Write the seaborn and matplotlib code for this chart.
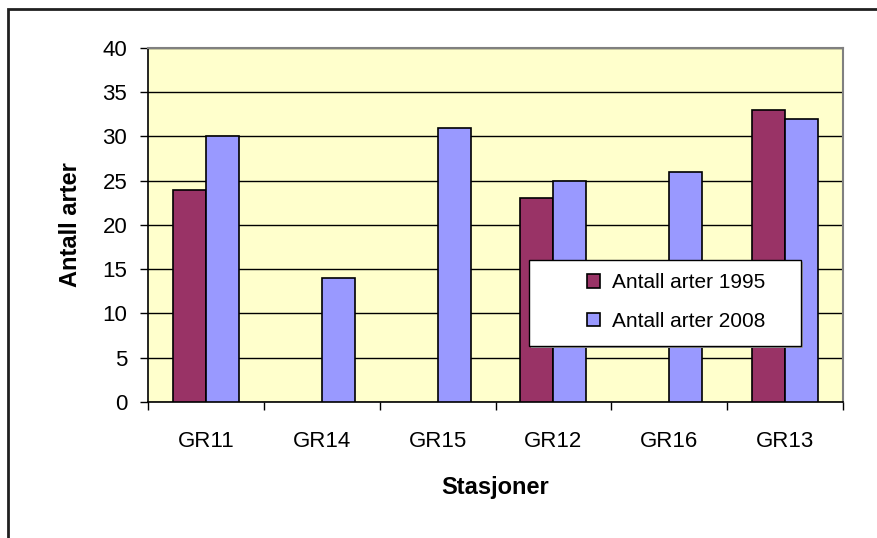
import pandas as pd
import numpy as np
import matplotlib
matplotlib.use('Agg')
import matplotlib.pyplot as plt
import seaborn as sns
from matplotlib.patches import Rectangle

stations = ['GR11', 'GR14', 'GR15', 'GR12', 'GR16', 'GR13']
arter_1995 = [24, np.nan, np.nan, 23, np.nan, 33]
arter_2008 = [30, 14, 31, 25, 26, 32]
series = ['Antall arter 1995', 'Antall arter 2008']

df = pd.DataFrame({
    'Stasjon': stations * 2,
    'Antall': arter_1995 + arter_2008,
    'Serie': [series[0]] * len(stations) + [series[1]] * len(stations),
})

sns.set_style('white')
plt.rcParams['font.family'] = ['Liberation Sans', 'DejaVu Sans']
plt.rcParams.update({'text.color': 'black', 'axes.labelcolor': 'black',
                     'xtick.color': 'black', 'ytick.color': 'black'})

fig = plt.figure(figsize=(8.78, 5.38), dpi=100)
ax = fig.add_axes([0.1686, 0.2528, 0.7916, 0.658])
ax.set_facecolor('#FFFFCC')

sns.barplot(data=df, x='Stasjon', y='Antall', hue='Serie', order=stations,
            hue_order=series, palette=['#993366', '#9999FF'], width=0.57,
            edgecolor='black', linewidth=1.2, saturation=1, ax=ax, zorder=3)

ax.set_ylim(0, 40)
ax.set_xlim(-0.5, len(stations) - 0.5)
ax.set_yticks(range(0, 41, 5))
ax.yaxis.grid(True, color='black', linewidth=1, zorder=0)
ax.set_axisbelow(True)

ax.set_xticks(np.arange(-0.5, len(stations), 1), minor=True)
ax.tick_params(axis='x', which='major', length=0, pad=21, labelsize=16, labelcolor='black')
ax.tick_params(axis='x', which='minor', length=6, width=1, color='black', direction='out')
ax.tick_params(axis='y', length=6, width=1, color='black', direction='out',
               labelsize=16, pad=9, labelcolor='black')
ax.tick_params(bottom=True, left=True, which='both')

for side in ['top', 'right']:
    ax.spines[side].set_color('#808080')
    ax.spines[side].set_linewidth(1.5)
for side in ['left', 'bottom']:
    ax.spines[side].set_color('black')
    ax.spines[side].set_linewidth(1.2)

ax.set_xlabel('Stasjoner', fontsize=17, fontweight='bold', color='black')
ax.set_ylabel('Antall arter', fontsize=17, fontweight='bold', color='black')
ax.xaxis.set_label_coords(0.5, -0.21)
ax.yaxis.set_label_coords(-0.095, 0.5)

# legend box (Excel-style, with a small shadow)
box = dict(xy=(0.548, 0.158), width=0.392, height=0.243)
shadow = Rectangle((box['xy'][0] + 0.003, box['xy'][1] - 0.006), box['width'], box['height'],
                   transform=ax.transAxes, facecolor='#9a9a9a', edgecolor='none', zorder=5)
frame = Rectangle(box['xy'], box['width'], box['height'], transform=ax.transAxes,
                  facecolor='white', edgecolor='black', linewidth=1, zorder=5)
ax.add_patch(shadow)
ax.add_patch(frame)

handles, labels = ax.get_legend_handles_labels()
ax.get_legend().remove()
leg = ax.legend(handles, labels, loc='center left', bbox_to_anchor=(0.632, 0.2825),
                fontsize=15, frameon=False, handlelength=0.62, handleheight=0.62,
                labelspacing=0.95, borderpad=0, handletextpad=0.55, borderaxespad=0,
                labelcolor='black')
leg.set_zorder(6)

# outer chart border
fig.patches.append(Rectangle((8 / 878, -0.05), 1.0, 1 - 9 / 538 + 0.05,
                             transform=fig.transFigure, fill=False,
                             edgecolor='#202020', linewidth=2))

fig.savefig('out.png', dpi=100)
